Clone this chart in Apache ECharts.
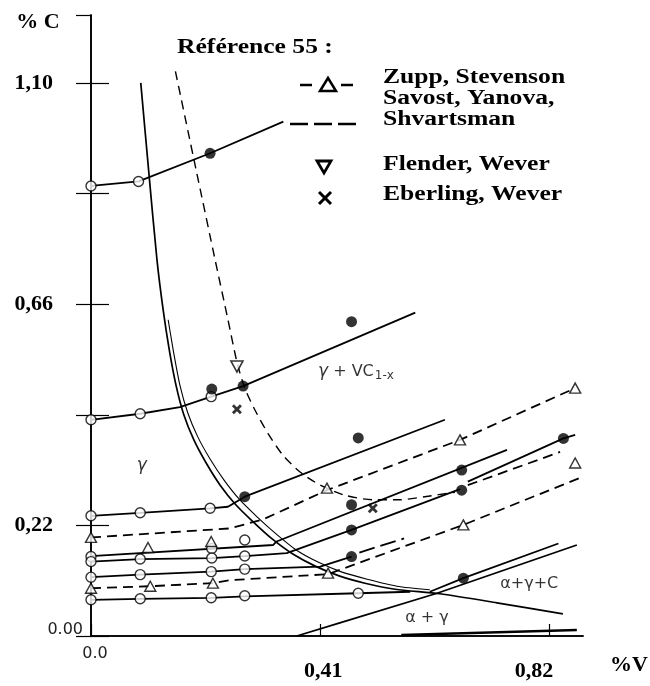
<!DOCTYPE html>
<html>
<head>
<meta charset="utf-8">
<script src="https://cdn.jsdelivr.net/npm/echarts@6/dist/echarts.min.js"></script>
<style>
  html, body { margin: 0; padding: 0; background: #fff; }
  #chart { width: 650px; height: 686px; }
</style>
</head>
<body>
<div id="chart"></div>
<script>
  // axes : %V en abscisse, %C en ordonnée
  var ticksX = [0, 0.41, 0.82];
  var ticksY = [0, 0.22, 0.66, 1.10];

  // limite de phase gamma / gamma + VC (trait plein, double en bas)
  var limite = [[0.089,1.100],[0.103,0.927],[0.118,0.748],[0.129,0.649],[0.140,0.569],[0.152,0.499],[0.166,0.440],
    [0.184,0.390],[0.206,0.344],[0.231,0.300],[0.259,0.261],[0.290,0.227],[0.324,0.193],[0.361,0.163],
    [0.401,0.139],[0.445,0.119],[0.490,0.105],[0.544,0.093],[0.624,0.084],[0.726,0.066],[0.844,0.044]];
  var limite2 = [[0.138,0.629],[0.147,0.569],[0.159,0.499],[0.173,0.444],[0.191,0.396],[0.213,0.352],[0.238,0.310],
    [0.266,0.271],[0.297,0.237],[0.331,0.203],[0.367,0.171],[0.406,0.147],[0.449,0.127],[0.494,0.113],
    [0.547,0.099],[0.606,0.092]];
  // limite en tirets
  var limiteTirets = [[0.151,1.123],[0.188,0.927],[0.222,0.748],[0.245,0.629],[0.261,0.545],[0.275,0.493],
    [0.293,0.450],[0.317,0.402],[0.343,0.360],[0.374,0.326],[0.410,0.300],[0.454,0.280],[0.504,0.271],
    [0.553,0.271],[0.597,0.277],[0.651,0.286]];

  // conodes (traits pleins)
  var conodeH = [[0,0.895],[0.085,0.904],[0.213,0.960],[0.344,1.023]];
  var conodeG = [[0,0.430],[0.088,0.442],[0.159,0.455],[0.215,0.476],[0.272,0.497],[0.580,0.643]];
  var conodeA = [[0,0.239],[0.088,0.245],[0.213,0.254],[0.245,0.257],[0.275,0.277],[0.633,0.430]];
  var conodeC = [[0,0.159],[0.326,0.181],[0.332,0.188],[0.744,0.370]];
  var conodeD = [[0,0.148],[0.088,0.153],[0.216,0.155],[0.275,0.159],[0.350,0.165],[0.466,0.211],[0.660,0.292]];
  var conodeD2 = [[0.674,0.307],[0.845,0.393],[0.866,0.400]];
  var conodeE = [[0,0.117],[0.088,0.122],[0.215,0.128],[0.275,0.133],[0.410,0.138],[0.466,0.158]];
  var conodeF = [[0,0.072],[0.088,0.074],[0.215,0.076],[0.275,0.079],[0.478,0.085],[0.571,0.088]];
  var conode6 = [[0.606,0.088],[0.666,0.115],[0.836,0.184]];
  var alphaGamma = [[0.368,0],[0.445,0.026],[0.619,0.085],[0.869,0.181]];
  var alphaBas = [[0.555,0.002],[0.869,0.012]];

  // Zupp, Stevenson (tirets)
  var zupp1 = [[0,0.196],[0.249,0.214],[0.308,0.232],[0.422,0.290],[0.660,0.390],[0.866,0.493]];
  var zupp2 = [[0,0.095],[0.106,0.099],[0.218,0.105],[0.249,0.111],[0.424,0.123],[0.666,0.221],[0.880,0.317]];
  var tiretsD = [[0.674,0.300],[0.839,0.366]];
  // Savost, Yanova, Shvartsman (grands tirets)
  var savost = [[0.480,0.166],[0.560,0.194]];

  // points
  var cerclesOuverts = [[0,0.895],[0.085,0.904],[0,0.430],[0.088,0.442],[0.215,0.476],
    [0,0.239],[0.088,0.245],[0.213,0.254],[0,0.158],[0.216,0.174],[0.275,0.191],
    [0,0.148],[0.088,0.153],[0.216,0.155],[0.275,0.159],[0,0.117],[0.088,0.122],[0.215,0.128],[0.275,0.133],
    [0,0.072],[0.088,0.074],[0.215,0.076],[0.275,0.080],[0.478,0.085]];
  var cerclesPleins = [[0.213,0.960],[0.216,0.491],[0.272,0.497],[0.466,0.625],[0.478,0.394],[0.275,0.277],
    [0.466,0.261],[0.466,0.211],[0.466,0.158],[0.663,0.330],[0.663,0.290],[0.666,0.115],[0.845,0.393]];
  var triangles = [[0,0.196],[0,0.095],[0.102,0.176],[0.215,0.188],[0.106,0.099],[0.218,0.105],
    [0.422,0.294],[0.424,0.125],[0.660,0.390],[0.666,0.221],[0.866,0.493],[0.866,0.344]];
  var trianglesInv = [[0.261,0.536]];
  var croix = [[0.261,0.451],[0.504,0.254]];

  // textes des domaines
  var domaines = [
    {value: [0.082, 0.338], texte: '{i|γ}'},
    {value: [0.406, 0.525], texte: '{i|γ} + VC{s|1-x}'},
    {value: [0.732, 0.103], texte: 'α+γ+C'},
    {value: [0.562, 0.036], texte: 'α + γ'}
  ];

  var legende = ['Zupp, Stevenson', 'Savost, Yanova,', 'Shvartsman', 'Flender, Wever', 'Eberling, Wever'];
  var legendeY = [78, 99, 120, 165, 195];

  function trait(data, type, width, smooth) {
    return {
      type: 'line', data: data, symbol: 'none', smooth: smooth || false, clip: false,
      lineStyle: {color: '#000', width: width || 1.8, type: type || 'solid'},
      silent: true, z: 2
    };
  }

  var serif = '"Liberation Serif", "Times New Roman", serif';
  var sans = '"DejaVu Sans", "Liberation Sans", sans-serif';

  var graphics = [
    {type: 'text', x: 38, y: 22, style: {text: '% C', fontFamily: serif, fontWeight: 'bold', fontSize: 22, fill: '#000', align: 'center', verticalAlign: 'middle'}},
    {type: 'text', x: 610, y: 665, style: {text: '%V', fontFamily: serif, fontWeight: 'bold', fontSize: 22, fill: '#000', align: 'left', verticalAlign: 'middle'}},
    {type: 'text', x: 177, y: 48, scaleX: 1.28, style: {text: 'Référence 55 :', fontFamily: serif, fontWeight: 'bold', fontSize: 20, fill: '#000', verticalAlign: 'middle'}},
    // symboles de la légende
    {type: 'line', shape: {x1: 300, y1: 85, x2: 312, y2: 85}, style: {stroke: '#000', lineWidth: 2.5}},
    {type: 'polygon', shape: {points: [[328, 78], [336, 91], [320, 91]]}, style: {fill: '#fff', stroke: '#000', lineWidth: 2.5}},
    {type: 'line', shape: {x1: 341, y1: 85, x2: 353, y2: 85}, style: {stroke: '#000', lineWidth: 2.5}},
    {type: 'line', shape: {x1: 290, y1: 124, x2: 308, y2: 124}, style: {stroke: '#000', lineWidth: 2.5}},
    {type: 'line', shape: {x1: 314, y1: 124, x2: 332, y2: 124}, style: {stroke: '#000', lineWidth: 2.5}},
    {type: 'line', shape: {x1: 338, y1: 124, x2: 356, y2: 124}, style: {stroke: '#000', lineWidth: 2.5}},
    {type: 'polygon', shape: {points: [[317, 161], [331, 161], [324, 173]]}, style: {fill: '#fff', stroke: '#000', lineWidth: 2.8}},
    {type: 'line', shape: {x1: 319, y1: 192, x2: 331, y2: 204}, style: {stroke: '#000', lineWidth: 3}},
    {type: 'line', shape: {x1: 331, y1: 192, x2: 319, y2: 204}, style: {stroke: '#000', lineWidth: 3}}
  ];
  legende.forEach(function (t, i) {
    graphics.push({type: 'text', x: 383, y: legendeY[i], scaleX: 1.28,
      style: {text: t, fontFamily: serif, fontWeight: 'bold', fontSize: 20, fill: '#000', verticalAlign: 'middle'}});
  });

  var chart = echarts.init(document.getElementById('chart'));
  chart.setOption({
    animation: false,
    backgroundColor: '#fff',
    grid: {left: 91, right: 67, top: 15, bottom: 50},
    xAxis: [{
      type: 'value', min: 0, max: 0.88, interval: 0.41,
      axisLine: {lineStyle: {color: '#000', width: 1.6}},
      axisTick: {inside: true, length: 12, lineStyle: {color: '#000', width: 1.2}},
      splitLine: {show: false},
      axisLabel: {
        margin: 8, showMaxLabel: false,
        formatter: function (v) {
          if (Math.abs(v) < 1e-6) return '{a|0.0}';
          if (Math.abs(v - 0.41) < 1e-3) return '{b|0,41}';
          if (Math.abs(v - 0.82) < 1e-3) return '{c|0,82}';
          return '';
        },
        rich: {
          a: {fontFamily: sans, fontSize: 16, color: '#222', padding: [2, 0, 0, 8]},
          b: {fontFamily: serif, fontWeight: 'bold', fontSize: 22, color: '#000', padding: [16, 0, 0, 6]},
          c: {fontFamily: serif, fontWeight: 'bold', fontSize: 22, color: '#000', padding: [16, 31, 0, 0]}
        }
      }
    }, {
      type: 'value', position: 'top', min: 0, max: 0.88,
      axisLine: {lineStyle: {color: '#000', width: 1.6}},
      axisTick: {show: false}, axisLabel: {show: false}, splitLine: {show: false}
    }],
    yAxis: [{
      type: 'value', min: 0, max: 1.235, interval: 0.22,
      axisLine: {lineStyle: {color: '#000', width: 1.6}},
      axisTick: {inside: true, length: 18, lineStyle: {color: '#000', width: 1.2}},
      splitLine: {show: false},
      axisLabel: {
        margin: 8, showMaxLabel: false,
        formatter: function (v) {
          if (Math.abs(v) < 1e-6) return '{a|0.00}';
          for (var i = 1; i < ticksY.length; i++) {
            if (Math.abs(v - ticksY[i]) < 1e-3) return '{b|' + ticksY[i].toFixed(2).replace('.', ',') + '}';
          }
          return '';
        },
        rich: {
          a: {fontFamily: sans, fontSize: 16, color: '#222', padding: [0, 0, 12, 0]},
          b: {fontFamily: serif, fontWeight: 'bold', fontSize: 22, color: '#000', padding: [0, 30, 0, 0]}
        }
      }
    }, {
      type: 'value', position: 'right', min: 0, max: 1.235, interval: 0.22,
      axisLine: {show: true, lineStyle: {color: '#000', width: 1.6}},
      axisTick: {inside: true, length: 15, lineStyle: {color: '#000', width: 1.2}},
      axisLabel: {show: false}, splitLine: {show: false}
    }],
    graphic: graphics,
    series: [
      trait(limite, 'solid', 1.7, 0.25),
      trait(limite2, 'solid', 1.1, 0.25),
      trait(limiteTirets, [9, 6], 1.4, 0.25),
      trait(conodeH), trait(conodeG), trait(conodeA), trait(conodeC), trait(conodeD), trait(conodeD2),
      trait(conodeE), trait(conodeF), trait(conode6), trait(alphaGamma), trait(alphaBas, 'solid', 2.6),
      trait(zupp1, [10, 6]), trait(zupp2, [10, 6]), trait(tiretsD, [10, 6]), trait(savost, [16, 6]),
      {type: 'scatter', data: cerclesOuverts, symbol: 'circle', symbolSize: 10, clip: false, z: 5,
        itemStyle: {color: '#fff', borderColor: '#000', borderWidth: 1.4}},
      {type: 'scatter', data: cerclesPleins, symbol: 'circle', symbolSize: 11, clip: false, z: 6,
        itemStyle: {color: '#000'}},
      {type: 'scatter', data: triangles, symbol: 'triangle', symbolSize: [11, 10], clip: false, z: 5,
        itemStyle: {color: '#fff', borderColor: '#000', borderWidth: 1.4}},
      {type: 'scatter', data: trianglesInv, symbol: 'triangle', symbolRotate: 180, symbolSize: [12, 11], clip: false, z: 5,
        itemStyle: {color: '#fff', borderColor: '#000', borderWidth: 1.6}},
      {type: 'scatter', data: croix, symbol: 'path://M2,0L5,3L8,0L10,2L7,5L10,8L8,10L5,7L2,10L0,8L3,5L0,2Z',
        symbolSize: 10, clip: false, z: 5, itemStyle: {color: '#000'}},
      {type: 'scatter', data: domaines, symbolSize: 0, silent: true, z: 7,
        label: {
          show: true, position: 'right', distance: 0, color: '#000',
          fontFamily: sans, fontSize: 16,
          formatter: function (p) { return p.data.texte; },
          rich: {
            i: {fontFamily: sans, fontSize: 17, fontStyle: 'italic'},
            s: {fontFamily: sans, fontSize: 12, padding: [8, 0, 0, 1]}
          }
        }}
    ]
  });
</script>
</body>
</html>
